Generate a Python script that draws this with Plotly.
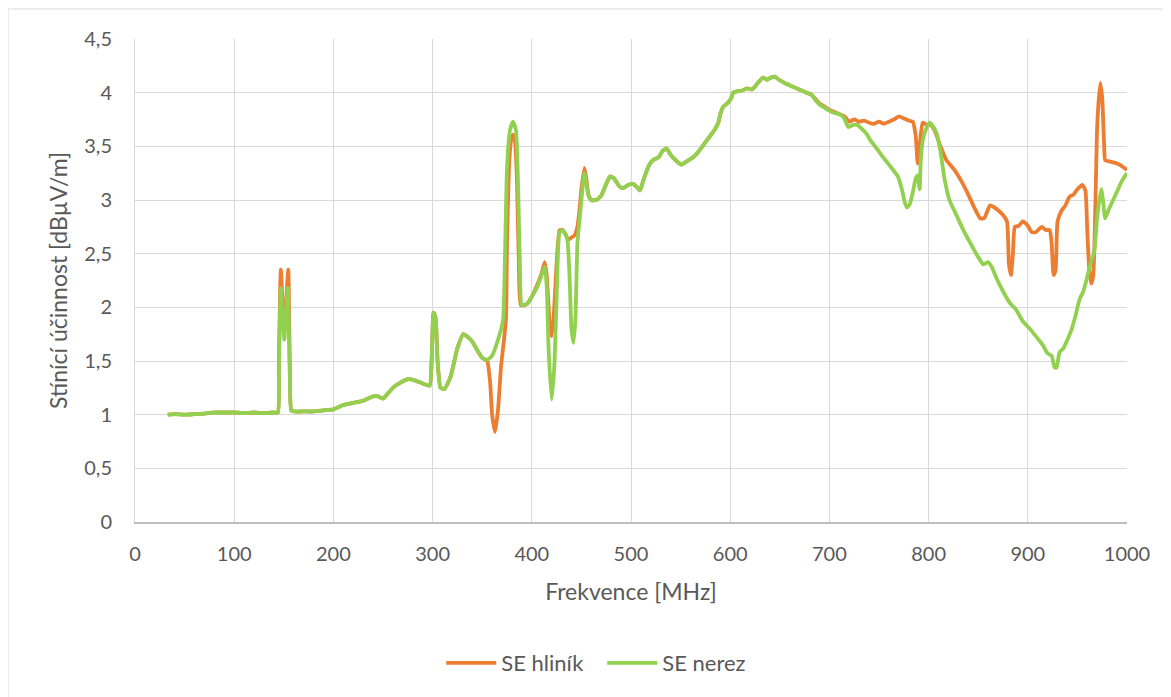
import plotly.graph_objects as go

# ---- data ----
freq_hlinik = [33, 40, 50, 60, 70, 80, 90, 100, 110, 120, 130, 140, 144,
               145, 147, 149, 150.5, 152, 154.5, 156, 157.5,
               160, 170, 180, 190, 200, 205, 210, 220, 230, 240, 245, 250, 255, 260, 268, 275, 282, 290, 297,
               299, 301, 303, 305, 308, 312, 318, 325, 331, 336, 340, 345, 350, 355,
               358, 360, 363, 366, 369, 372, 374, 375, 377, 379, 381, 383, 385, 387, 389,
               395, 400, 405, 410, 413, 415, 418, 420, 422, 425, 428, 431, 434, 437, 440, 443, 446, 448, 450, 453, 455, 457,
               460, 465, 470, 475, 479, 483, 488, 492, 497, 502, 506, 509, 513, 518, 522, 528, 532, 536, 540, 545, 551, 556,
               563, 568, 572, 576, 580, 584, 588, 590, 593, 597, 601, 603, 606, 612, 617, 622, 627, 633, 637, 641, 645, 649,
               653, 657, 662, 667, 672, 677, 682, 686, 690, 695, 700, 705,
               710, 715, 720, 725, 730, 735, 740, 745, 750, 755, 760, 765, 770, 775, 780, 784, 787, 789, 791, 794, 798, 802,
               806, 812, 818, 826, 834, 840, 846, 852, 856, 862, 868, 875, 879, 881, 883, 885, 887, 891, 895, 900, 904, 908,
               914, 918, 922, 924, 926, 928, 930, 934, 938, 942, 946, 950, 955, 958, 960, 962, 964, 966, 968, 970, 973, 975,
               977, 978, 982, 986, 990, 994, 997, 1000]
se_hlinik = [1.00, 1.005, 1.0, 1.005, 1.01, 1.02, 1.02, 1.02, 1.015, 1.02, 1.015, 1.02, 1.02,
             1.5, 2.35, 2.0, 1.85, 2.0, 2.35, 1.5, 1.04,
             1.03, 1.03, 1.03, 1.04, 1.05, 1.07, 1.09, 1.11, 1.13, 1.17, 1.17, 1.15, 1.2, 1.25, 1.30, 1.33, 1.32, 1.29, 1.27,
             1.5, 1.95, 1.9, 1.5, 1.25, 1.24, 1.35, 1.62, 1.75, 1.72, 1.68, 1.6, 1.53, 1.50,
             1.3, 1.0, 0.84, 1.05, 1.45, 1.7, 1.9, 2.6, 3.3, 3.55, 3.61, 3.55, 3.2, 2.4, 2.02,
             2.03, 2.1, 2.2, 2.32, 2.42, 2.3, 1.85, 1.73, 1.9, 2.4, 2.72, 2.72, 2.68, 2.63, 2.65, 2.67, 2.75, 2.9, 3.1, 3.30, 3.2, 3.05,
             3.0, 3.0, 3.04, 3.15, 3.22, 3.2, 3.13, 3.11, 3.14, 3.15, 3.12, 3.09, 3.2, 3.32, 3.37, 3.4, 3.46, 3.48, 3.42, 3.37, 3.33, 3.36,
             3.40, 3.45, 3.5, 3.55, 3.6, 3.65, 3.72, 3.8, 3.87, 3.9, 3.95, 4.0, 4.01, 4.02, 4.04, 4.03, 4.08, 4.14, 4.12, 4.14, 4.15, 4.12,
             4.1, 4.08, 4.06, 4.04, 4.02, 4.0, 3.98, 3.94, 3.9, 3.87, 3.84, 3.82,
             3.8, 3.78, 3.73, 3.75, 3.73, 3.74, 3.72, 3.71, 3.73, 3.71, 3.73, 3.75, 3.78, 3.76, 3.74, 3.73, 3.6, 3.34, 3.5, 3.72, 3.70, 3.70,
             3.65, 3.50, 3.37, 3.28, 3.16, 3.05, 2.93, 2.83, 2.83, 2.95, 2.92, 2.86, 2.8, 2.4, 2.30, 2.5, 2.75, 2.76, 2.80, 2.76, 2.70, 2.70,
             2.75, 2.72, 2.72, 2.6, 2.30, 2.35, 2.8, 2.9, 2.95, 3.03, 3.05, 3.1, 3.14, 3.09, 2.7, 2.35, 2.22, 2.3, 2.9, 3.7, 4.09, 3.95,
             3.5, 3.37, 3.36, 3.35, 3.34, 3.32, 3.3, 3.28]

freq_nerez = [33, 40, 50, 60, 70, 80, 90, 100, 110, 120, 130, 140, 144,
              145, 147, 149, 150.5, 152, 154, 156, 157.5,
              160, 170, 180, 190, 200, 205, 210, 220, 230, 240, 245, 250, 255, 260, 268, 275, 282, 290, 297,
              299, 301, 303, 305, 308, 312, 318, 325, 331, 336, 340, 345, 350, 355,
              360, 366, 371, 373, 375, 378, 381, 384, 386, 388, 390,
              395, 400, 405, 410, 413, 415, 417, 420, 423, 426, 428, 431, 434, 436, 438, 440, 442, 444, 446, 448, 450, 453, 455, 457,
              460, 465, 470, 475, 479, 483, 488, 492, 497, 502, 506, 509, 513, 518, 522, 528, 532, 536, 540, 545, 551, 556,
              563, 568, 572, 576, 580, 584, 588, 590, 593, 597, 601, 603, 606, 612, 617, 622, 627, 633, 637, 641, 645, 649,
              653, 657, 662, 667, 672, 677, 682, 686, 690, 695, 700, 705, 710, 715, 719, 724, 728, 733, 738, 741, 746, 750, 754,
              760, 765, 769, 773, 776, 778, 781, 784, 787, 789, 791, 792, 794, 797, 801, 805, 808, 812, 816, 821, 828, 835, 842,
              848, 852, 855, 860, 864, 868, 875, 882, 888, 895, 902, 909, 915, 920, 924, 927, 929, 932, 936, 940, 944, 948, 952,
              956, 959, 963, 967, 970, 974, 976, 978, 982, 986, 990, 995, 1000]
se_nerez = [1.00, 1.005, 1.0, 1.005, 1.01, 1.02, 1.02, 1.02, 1.015, 1.02, 1.015, 1.02, 1.02,
            1.4, 2.18, 1.9, 1.70, 1.9, 2.18, 1.4, 1.04,
            1.03, 1.03, 1.03, 1.04, 1.05, 1.07, 1.09, 1.11, 1.13, 1.17, 1.17, 1.15, 1.2, 1.25, 1.30, 1.33, 1.32, 1.29, 1.27,
            1.5, 1.95, 1.9, 1.5, 1.25, 1.24, 1.35, 1.62, 1.75, 1.72, 1.68, 1.6, 1.53, 1.51,
            1.55, 1.7, 1.88, 2.5, 3.3, 3.65, 3.73, 3.65, 3.2, 2.4, 2.02,
            2.03, 2.1, 2.18, 2.3, 2.38, 2.2, 1.6, 1.14, 1.5, 2.4, 2.7, 2.72, 2.68, 2.62, 2.3, 1.8, 1.67, 1.9, 2.6, 2.8, 3.0, 3.25, 3.15, 3.05,
            3.0, 3.0, 3.04, 3.15, 3.22, 3.2, 3.13, 3.11, 3.14, 3.15, 3.12, 3.09, 3.2, 3.32, 3.37, 3.4, 3.46, 3.48, 3.42, 3.37, 3.33, 3.36,
            3.40, 3.45, 3.5, 3.55, 3.6, 3.65, 3.72, 3.8, 3.87, 3.9, 3.95, 4.0, 4.01, 4.02, 4.04, 4.03, 4.08, 4.14, 4.12, 4.14, 4.15, 4.12,
            4.1, 4.08, 4.06, 4.04, 4.02, 4.0, 3.98, 3.93, 3.89, 3.86, 3.83, 3.81, 3.80, 3.76, 3.68, 3.7, 3.70, 3.66, 3.61, 3.56, 3.50, 3.45, 3.40,
            3.33, 3.27, 3.22, 3.1, 2.98, 2.93, 2.96, 3.07, 3.2, 3.23, 3.1, 3.35, 3.55, 3.65, 3.72, 3.68, 3.62, 3.45, 3.2, 3.0, 2.86, 2.72, 2.60,
            2.50, 2.44, 2.40, 2.42, 2.37, 2.28, 2.15, 2.04, 1.98, 1.87, 1.80, 1.72, 1.65, 1.57, 1.55, 1.44, 1.44, 1.58, 1.62, 1.70, 1.79, 1.92, 2.07,
            2.15, 2.25, 2.40, 2.52, 2.85, 3.10, 2.98, 2.83, 2.92, 3.0, 3.08, 3.18, 3.25]

series_names = ["SE hliník", "SE nerez"]
x_tick_vals = [0, 100, 200, 300, 400, 500, 600, 700, 800, 900, 1000]
y_tick_vals = [0, 0.5, 1, 1.5, 2, 2.5, 3, 3.5, 4, 4.5]
y_tick_text = ["0", "0,5", "1", "1,5", "2", "2,5", "3", "3,5", "4", "4,5"]

FONT = "Lato"
TXT = "#595959"

fig = go.Figure()
fig.add_trace(go.Scatter(x=freq_hlinik, y=se_hlinik, name=series_names[0], mode="lines",
                         line=dict(color="#ED7D31", width=3.8, shape="spline", smoothing=0.5)))
fig.add_trace(go.Scatter(x=freq_nerez, y=se_nerez, name=series_names[1], mode="lines",
                         line=dict(color="#92D050", width=3.8, shape="spline", smoothing=0.5)))

# page body has an 8px default margin, so the figure is 8px smaller and shifted
W, H = 1163, 689
fig.update_layout(
    width=W, height=H,
    margin=dict(l=127, r=44, t=31, b=175),
    paper_bgcolor="white", plot_bgcolor="white",
    font=dict(family=FONT, color=TXT, size=20),
    showlegend=True,
    legend=dict(orientation="h", x=0.471, xanchor="center", y=-0.292, yanchor="middle",
                font=dict(size=22, color=TXT, family=FONT), itemwidth=50, entrywidth=96,
                traceorder="normal"),
    xaxis=dict(range=[0, 1000], tickvals=x_tick_vals, ticktext=[str(v) for v in x_tick_vals],
               showgrid=True, gridcolor="#d9d9d9", gridwidth=1,
               showline=True, linecolor="#bfbfbf", linewidth=1.5, zeroline=False,
               ticks="", ticklabelstandoff=13,
               tickfont=dict(size=20, color=TXT, family=FONT),
               title=dict(text="Frekvence [MHz]", font=dict(size=23, color=TXT, family=FONT), standoff=20)),
    yaxis=dict(range=[0, 4.5], tickvals=y_tick_vals, ticktext=y_tick_text,
               showgrid=True, gridcolor="#d9d9d9", gridwidth=1,
               showline=True, linecolor="#d9d9d9", linewidth=1, zeroline=False,
               ticks="", ticklabelstandoff=18,
               tickfont=dict(size=20, color=TXT, family=FONT),
               title=dict(text="Stínící účinnost [dBµV/m]", font=dict(size=23, color=TXT, family=FONT), standoff=10)),
)

# chart-area border (as in the original office chart)
fig.add_shape(type="rect", xref="paper", yref="paper",
              x0=(0 - 127) / 992, x1=(1180 - 127) / 992,
              y0=(514 - 705) / 483, y1=(514 - 1) / 483,
              line=dict(color="#d9d9d9", width=1), fillcolor="rgba(0,0,0,0)", layer="below")

fig.write_html("out.html")
